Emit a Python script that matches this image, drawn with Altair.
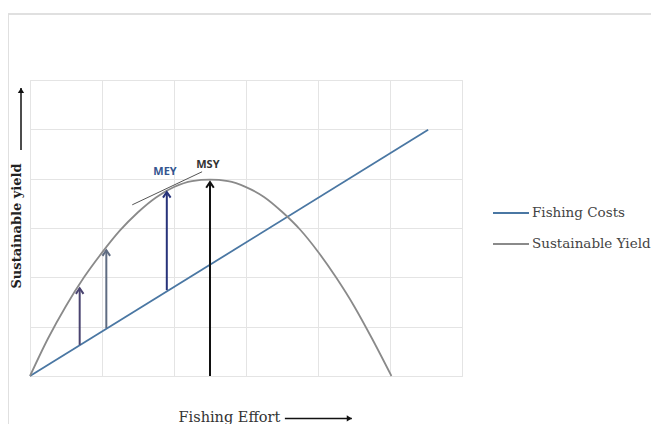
import altair as alt
import pandas as pd

# ---- data (plot units: 1 grid cell = 1) ----
curve_x = [0, 0.25, 0.5, 0.75, 1.0, 1.25, 1.5, 1.75, 2.0, 2.25, 2.5, 2.75,
           3.0, 3.25, 3.5, 3.75, 4.0, 4.25, 4.5, 4.75, 5.02]
curve_y = [0, 0.76, 1.42, 2.0, 2.5, 2.95, 3.32, 3.62, 3.83, 3.95, 3.98, 3.95,
           3.83, 3.63, 3.33, 2.97, 2.52, 2.0, 1.42, 0.76, 0]
cost_x = [0, 5.53]
cost_y = [0, 4.99]
series_names = ["Fishing Costs", "Sustainable Yield"]
series_colors = ["#4a77a3", "#8a8a8a"]

arrow_x = [0.69, 1.06, 1.90, 2.50]
arrow_base = [0.63, 0.97, 1.74, 0.0]
arrow_tip = [1.78, 2.55, 3.73, 3.93]
arrow_colors = ["#4a4470", "#5f6c82", "#27337a", "#111111"]

tangent_x = [1.42, 2.39]
tangent_y = [3.47, 4.14]

label_text = ["MEY", "MSY"]
label_x = [1.875, 2.47]
label_y = [4.14, 4.28]
label_colors = ["#34558f", "#333333"]

grid_values = [0, 1, 2, 3, 4, 5, 6]

# axis-title arrows
y_arrow_x = [-0.125, -0.125]
y_arrow_y = [4.58, 5.84]
x_arrow_x = [3.54, 4.47]
x_arrow_y = [-0.86, -0.86]

# ---- tables ----
lines = pd.concat([
    pd.DataFrame({"x": cost_x, "y": cost_y, "series": series_names[0]}),
    pd.DataFrame({"x": curve_x, "y": curve_y, "series": series_names[1]}),
])
arrows = pd.DataFrame({"x": arrow_x, "base": arrow_base, "tip": arrow_tip, "c": arrow_colors})
tangent = pd.DataFrame({"x": tangent_x, "y": tangent_y})
labels = pd.DataFrame({"x": label_x, "y": label_y, "t": label_text, "c": label_colors})
yarrow = pd.DataFrame({"x": y_arrow_x, "y": y_arrow_y})
xarrow = pd.DataFrame({"x": x_arrow_x, "y": x_arrow_y})

xs = alt.Scale(domain=[0, 6], nice=False, zero=False)
ys = alt.Scale(domain=[0, 6], nice=False, zero=False)

x_axis = alt.Axis(values=grid_values, grid=True, gridColor="#e4e4e4", domain=False,
                  ticks=False, labels=False, title="Fishing Effort",
                  titleFont="DejaVu Serif", titleFontSize=14.5, titleFontWeight="normal",
                  titleColor="#333333", titleX=148, titleY=45, titleAlign="left",
                  titleBaseline="alphabetic")
y_axis = alt.Axis(values=grid_values, grid=True, gridColor="#e4e4e4", domain=False,
                  ticks=False, labels=False, title="Sustainable yield",
                  titleFont="DejaVu Serif", titleFontSize=13, titleFontWeight="bold",
                  titleColor="#222222", titleAngle=270, titleX=-10, titleY=145.5,
                  titleAlign="center", titleBaseline="alphabetic")

legend = alt.Legend(title=None, orient="none", legendX=462, legendY=114,
                    symbolType="stroke", symbolSize=1296, symbolStrokeWidth=2,
                    labelFont="DejaVu Serif", labelFontSize=13.5, labelColor="#444444",
                    labelOffset=2, rowPadding=5)

base_lines = alt.Chart(lines).mark_line(strokeWidth=1.8, interpolate="monotone").encode(
    x=alt.X("x:Q", scale=xs, axis=x_axis),
    y=alt.Y("y:Q", scale=ys, axis=y_axis),
    color=alt.Color("series:N", scale=alt.Scale(domain=series_names, range=series_colors),
                    legend=legend),
    order=alt.Order("x:Q"),
)

shafts = alt.Chart(arrows).mark_rule(strokeWidth=2).encode(
    x=alt.X("x:Q", scale=xs), y=alt.Y("base:Q", scale=ys), y2="tip:Q",
    color=alt.Color("c:N", scale=None),
)
heads = alt.Chart(arrows).mark_point(
    shape="M -0.8 1.2 L 0 0 L 0.8 1.2", filled=False, strokeWidth=2, size=90, opacity=1
).encode(
    x=alt.X("x:Q", scale=xs), y=alt.Y("tip:Q", scale=ys),
    color=alt.Color("c:N", scale=None),
)

tang = alt.Chart(tangent).mark_line(strokeWidth=1, color="#555555").encode(
    x=alt.X("x:Q", scale=xs), y=alt.Y("y:Q", scale=ys),
)

texts = alt.Chart(labels).mark_text(font="Open Sans", fontSize=11, fontWeight="bold",
                                    align="center", baseline="middle").encode(
    x=alt.X("x:Q", scale=xs), y=alt.Y("y:Q", scale=ys), text="t:N",
    color=alt.Color("c:N", scale=None),
)

yline = alt.Chart(yarrow).mark_line(strokeWidth=1.5, color="#111111").encode(
    x=alt.X("x:Q", scale=xs), y=alt.Y("y:Q", scale=ys))
yhead = alt.Chart(yarrow.tail(1)).mark_point(
    shape="M -1 1.6 L 0 0 L 1 1.6 Z", filled=True, size=40, color="#111111", opacity=1
).encode(x=alt.X("x:Q", scale=xs), y=alt.Y("y:Q", scale=ys))

xline = alt.Chart(xarrow).mark_line(strokeWidth=1.5, color="#111111").encode(
    x=alt.X("x:Q", scale=xs), y=alt.Y("y:Q", scale=ys))
xhead = alt.Chart(xarrow.tail(1)).mark_point(
    shape="M -1.6 -1 L 0 0 L -1.6 1 Z", filled=True, size=40, color="#111111", opacity=1
).encode(x=alt.X("x:Q", scale=xs), y=alt.Y("y:Q", scale=ys))

border_top = alt.Chart(tangent).mark_rule(color="#dedede", strokeWidth=1.5).encode(
    x=alt.value(-22), x2=alt.value(640), y=alt.value(-66))
border_left = alt.Chart(tangent).mark_rule(color="#dedede", strokeWidth=1.5).encode(
    x=alt.value(-22), y=alt.value(-66), y2=alt.value(360))

chart = alt.layer(
    border_top, border_left, base_lines, tang, shafts, heads, texts,
    yline, yhead, xline, xhead,
).properties(
    width=432, height=296,
    autosize=alt.AutoSizeParams(type="none"),
    padding={"left": 22, "top": 72, "right": 189, "bottom": 48},
).configure_view(stroke=None).configure(background="white")

chart.save("out.html", embed_options={"renderer": "svg", "actions": False})
